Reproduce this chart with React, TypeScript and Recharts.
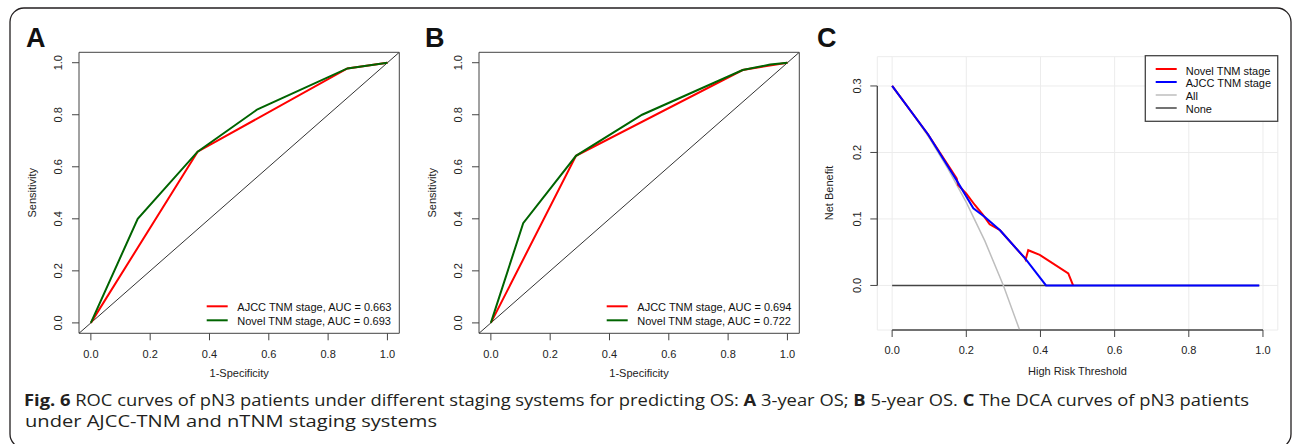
import React from 'react';
import { LineChart, Line, XAxis, YAxis, CartesianGrid, ReferenceArea, ReferenceLine } from 'recharts';

const FONT = '"Liberation Sans", Arial, sans-serif';

// ROC panels: x = 1-Specificity, y = Sensitivity
const rocTicks = [0, 0.2, 0.4, 0.6, 0.8, 1];
const rocDomain = [-0.04, 1.04];

const aAjccFpr = [0, 0.36, 0.865, 1];
const aAjccSens = [0, 0.658, 0.978, 1];
const aNovelFpr = [0, 0.158, 0.36, 0.562, 0.865, 1];
const aNovelSens = [0, 0.4, 0.658, 0.821, 0.978, 1];
const aAuc = ['0.663', '0.693'];

const bAjccFpr = [0, 0.287, 0.849, 1];
const bAjccSens = [0, 0.642, 0.972, 1];
const bNovelFpr = [0, 0.109, 0.287, 0.51, 0.849, 0.942, 1];
const bNovelSens = [0, 0.383, 0.642, 0.8, 0.972, 0.993, 1];
const bAuc = ['0.694', '0.722'];

// DCA panel: x = threshold, y = net benefit
const dcaXTicks = [0, 0.2, 0.4, 0.6, 0.8, 1];
const dcaYTicks = [0, 0.1, 0.2, 0.3];
const dcaXDomain = [-0.04, 1.04];
const dcaYDomain = [-0.067, 0.344];

// novel curve's flat tail past 0.488 sits under the blue one, so it is left off
const novelT = [0, 0.097, 0.174, 0.178, 0.2, 0.223, 0.245, 0.263, 0.291, 0.358, 0.36, 0.367, 0.398, 0.475, 0.488];
const novelNB = [0.3, 0.227, 0.161, 0.151, 0.138, 0.121, 0.106, 0.092, 0.083, 0.041, 0.039, 0.053, 0.046, 0.018, 0];
const ajccT = [0, 0.097, 0.174, 0.219, 0.25, 0.291, 0.358, 0.415, 0.99];
const ajccNB = [0.3, 0.227, 0.158, 0.116, 0.103, 0.083, 0.041, 0, 0];
const allT = [0, 0.05, 0.1, 0.15, 0.2, 0.25, 0.3, 0.343];
const allNB = [0.3, 0.263, 0.222, 0.176, 0.125, 0.067, 0, -0.066];
const noneT = [0, 0.99];
const noneNB = [0, 0];

const dcaLegend = [
  { name: 'Novel TNM stage', color: '#ff0000', w: 2 },
  { name: 'AJCC TNM stage', color: '#0000ff', w: 2 },
  { name: 'All', color: '#bebebe', w: 1.5 },
  { name: 'None', color: '#444444', w: 1.5 },
];

const toPoints = (xs: number[], ys: number[]) => xs.map((x, i) => ({ x, y: ys[i] }));

const XTick = (props: any) => (
  <text x={props.x} y={props.y} textAnchor="middle" dominantBaseline="central" fontSize={11} fontFamily={FONT} fill="#222">
    {Number(props.payload.value).toFixed(1)}
  </text>
);

const YTick = (props: any) => (
  <text
    x={props.x}
    y={props.y}
    transform={`rotate(-90 ${props.x} ${props.y})`}
    textAnchor="middle"
    dominantBaseline="central"
    fontSize={11}
    fontFamily={FONT}
    fill="#222"
  >
    {Number(props.payload.value).toFixed(1)}
  </text>
);

const RocPanel = ({ left, ajcc, novel }: { left: number; ajcc: any[]; novel: any[] }) => (
  <div style={{ position: 'absolute', left, top: 0 }}>
    <LineChart width={420} height={400} margin={{ top: 52.3, right: 20.7, bottom: 26.7, left: 29 }}>
      <XAxis
        type="number"
        dataKey="x"
        domain={rocDomain}
        ticks={rocTicks}
        allowDataOverflow
        height={40}
        axisLine={false}
        tickLine={{ stroke: '#444' }}
        tickSize={7}
        tickMargin={13.7}
        tick={<XTick />}
      />
      <YAxis
        type="number"
        dataKey="y"
        domain={rocDomain}
        ticks={rocTicks}
        allowDataOverflow
        width={50}
        axisLine={false}
        tickLine={{ stroke: '#444' }}
        tickSize={7}
        tickMargin={13.7}
        tick={<YTick />}
      />
      <ReferenceArea x1={rocDomain[0]} x2={rocDomain[1]} y1={rocDomain[0]} y2={rocDomain[1]} fill="none" stroke="#444" strokeWidth={1} fillOpacity={0} ifOverflow="visible" />
      <Line data={toPoints(rocDomain, rocDomain)} dataKey="y" stroke="#333" strokeWidth={1} dot={false} isAnimationActive={false} />
      <Line data={ajcc} dataKey="y" stroke="#ff0000" strokeWidth={2} dot={false} isAnimationActive={false} />
      <Line data={novel} dataKey="y" stroke="#006400" strokeWidth={2} dot={false} isAnimationActive={false} />
    </LineChart>
  </div>
);

const DcaPanel = () => (
  <div style={{ position: 'absolute', left: 810, top: 0 }}>
    <LineChart width={483} height={400} margin={{ top: 56.7, right: 15.2, bottom: 30, left: 17.3 }}>
      <CartesianGrid stroke="#ececec" strokeWidth={1} />
      <XAxis
        type="number"
        dataKey="x"
        domain={dcaXDomain}
        ticks={dcaXTicks}
        allowDataOverflow
        height={40}
        axisLine={false}
        tickLine={{ stroke: '#444' }}
        tickSize={7}
        tickMargin={13}
        tick={<XTick />}
      />
      <YAxis
        type="number"
        dataKey="y"
        domain={dcaYDomain}
        ticks={dcaYTicks}
        allowDataOverflow
        width={50}
        axisLine={false}
        tickLine={{ stroke: '#444' }}
        tickSize={7}
        tickMargin={13.6}
        tick={<YTick />}
      />
      <ReferenceLine
        segment={[{ x: dcaXDomain[0], y: dcaYTicks[0] }, { x: dcaXDomain[0], y: dcaYTicks[dcaYTicks.length - 1] }]}
        stroke="#444"
        strokeWidth={1.3}
        ifOverflow="visible"
      />
      <ReferenceLine
        segment={[{ x: dcaXTicks[0], y: dcaYDomain[0] }, { x: dcaXTicks[dcaXTicks.length - 1], y: dcaYDomain[0] }]}
        stroke="#444"
        strokeWidth={1.3}
        ifOverflow="visible"
      />
      <Line data={toPoints(noneT, noneNB)} dataKey="y" stroke="#444" strokeWidth={1.5} dot={false} isAnimationActive={false} />
      <Line data={toPoints(allT, allNB)} dataKey="y" stroke="#bebebe" strokeWidth={1.5} dot={false} isAnimationActive={false} />
      <Line data={toPoints(novelT, novelNB)} dataKey="y" stroke="#ff0000" strokeWidth={2} dot={false} isAnimationActive={false} />
      <Line data={toPoints(ajccT, ajccNB)} dataKey="y" stroke="#0000ff" strokeWidth={2} dot={false} isAnimationActive={false} />
    </LineChart>
  </div>
);

const RocLegend = ({ x, auc }: { x: number; auc: string[] }) => (
  <g fontFamily={FONT} fontSize={11} fill="#111">
    <line x1={x} x2={x + 21} y1={306.3} y2={306.3} stroke="#ff0000" strokeWidth={2} />
    <text x={x + 30.6} y={306.8} dominantBaseline="central">{`AJCC TNM stage, AUC = ${auc[0]}`}</text>
    <line x1={x} x2={x + 21} y1={320.3} y2={320.3} stroke="#006400" strokeWidth={2} />
    <text x={x + 30.6} y={320.8} dominantBaseline="central">{`Novel TNM stage, AUC = ${auc[1]}`}</text>
  </g>
);

const Overlay = () => (
  <svg width={1293} height={444} style={{ position: 'absolute', left: 0, top: 0, pointerEvents: 'none' }}>
    <rect x={10} y={8} width={1281} height={440} rx={14} fill="none" stroke="#231f20" strokeWidth={1.3} />

    <g fontFamily={FONT} fontWeight="bold" fontSize={27} fill="#111">
      <text x={26} y={47}>A</text>
      <text x={425} y={47}>B</text>
      <text x={817} y={47}>C</text>
    </g>

    <g fontFamily={FONT} fontSize={11} fill="#222" textAnchor="middle">
      <text x={239.2} y={373} dominantBaseline="central">1-Specificity</text>
      <text x={639} y={373} dominantBaseline="central">1-Specificity</text>
      <text x={1077.5} y={371} dominantBaseline="central">High Risk Threshold</text>
      <text x={32.3} y={192.8} dominantBaseline="central" transform="rotate(-90 32.3 192.8)">Sensitivity</text>
      <text x={431.7} y={192.8} dominantBaseline="central" transform="rotate(-90 431.7 192.8)">Sensitivity</text>
      <text x={829} y={193} dominantBaseline="central" transform="rotate(-90 829 193)">Net Benefit</text>
    </g>

    <RocLegend x={206.7} auc={aAuc} />
    <RocLegend x={606.7} auc={bAuc} />

    <rect x={1145.3} y={55.7} width={132.4} height={65.6} fill="#fff" stroke="#444" strokeWidth={1.3} />
    <g fontFamily={FONT} fontSize={11} fill="#111">
      {dcaLegend.map((d, i) => (
        <g key={d.name}>
          <line x1={1155.7} x2={1176.7} y1={69 + i * 13} y2={69 + i * 13} stroke={d.color} strokeWidth={d.w} />
          <text x={1185.7} y={70.5 + i * 12.9} dominantBaseline="central">{d.name}</text>
        </g>
      ))}
    </g>

    <g fontFamily='"Open Sans", "Noto Sans", sans-serif' fontSize={16.5} fill="#231f20" style={{ whiteSpace: 'pre' }}>
      <text x={24} y={406} textLength={1225} lengthAdjust="spacingAndGlyphs">
        <tspan fontWeight="bold">Fig. 6</tspan>
        {'  ROC curves of pN3 patients under different staging systems for predicting OS: '}
        <tspan fontWeight="bold">A</tspan>
        {' 3-year OS; '}
        <tspan fontWeight="bold">B</tspan>
        {' 5-year OS. '}
        <tspan fontWeight="bold">C</tspan>
        {' The DCA curves of pN3 patients'}
      </text>
      <text x={25} y={427} textLength={412} lengthAdjust="spacingAndGlyphs">
        under AJCC-TNM and nTNM staging systems
      </text>
    </g>
  </svg>
);

export default function App() {
  return (
    <div style={{ position: 'absolute', left: 0, top: 0, width: 1293, height: 444, background: '#fff', overflow: 'hidden' }}>
      <RocPanel left={0} ajcc={toPoints(aAjccFpr, aAjccSens)} novel={toPoints(aNovelFpr, aNovelSens)} />
      <RocPanel left={399.7} ajcc={toPoints(bAjccFpr, bAjccSens)} novel={toPoints(bNovelFpr, bNovelSens)} />
      <DcaPanel />
      <Overlay />
    </div>
  );
}
